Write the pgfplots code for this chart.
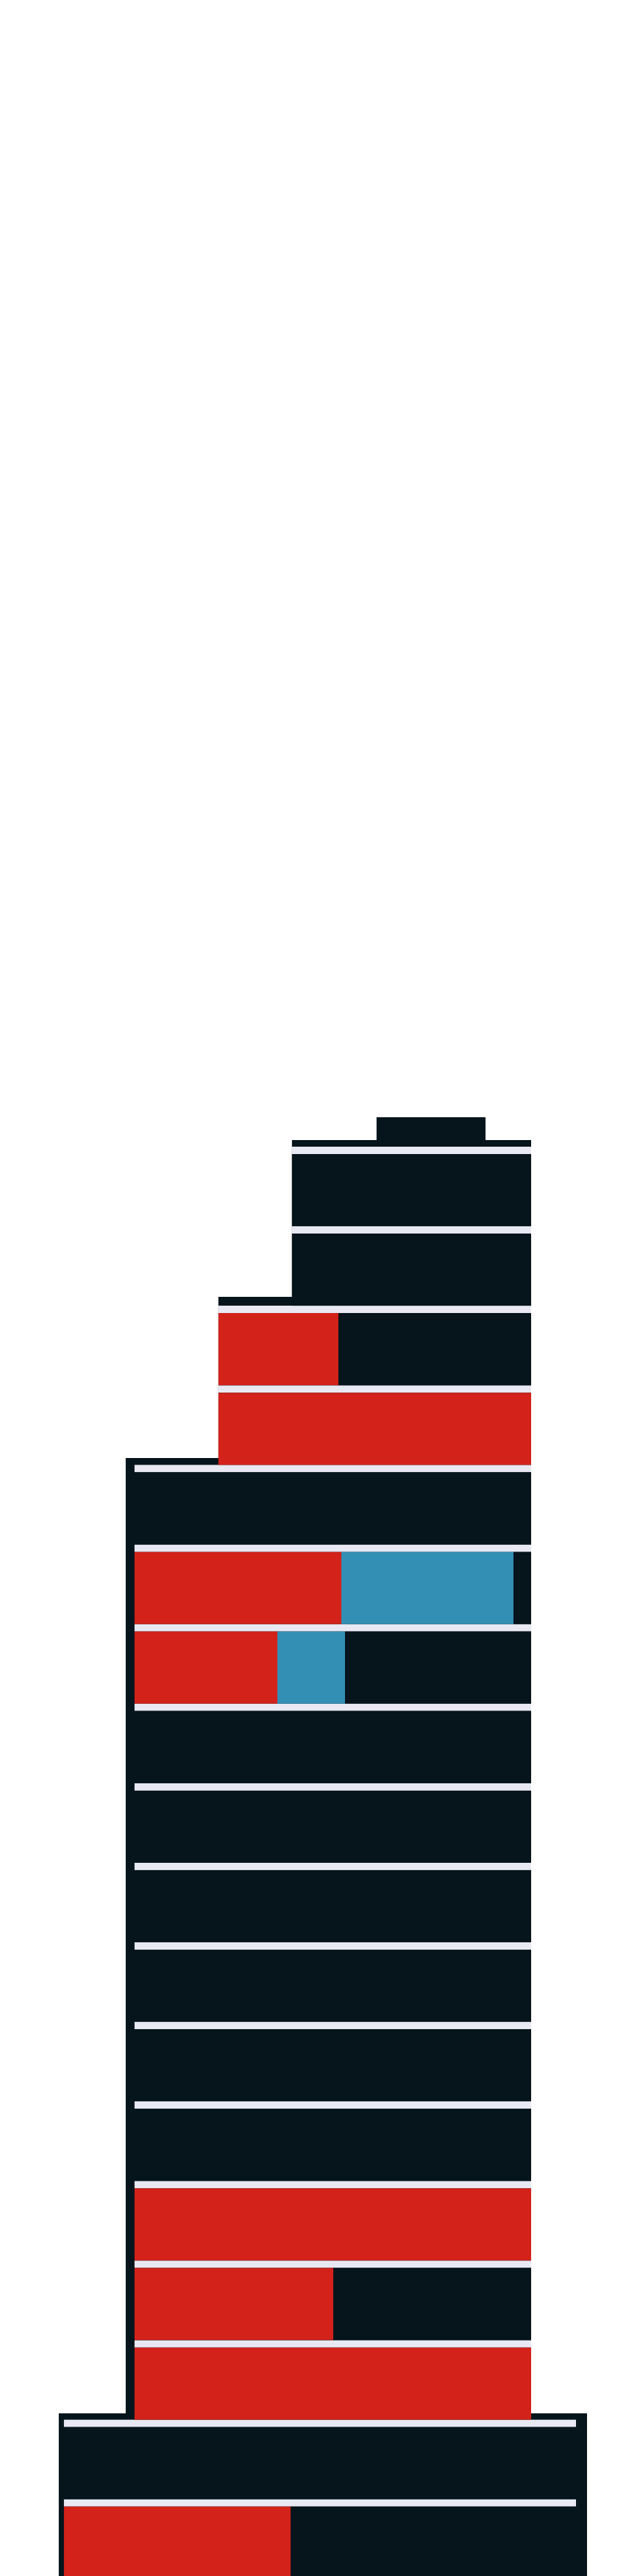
\documentclass[border=0pt]{standalone}
\usepackage{pgfplots}
\usepackage{pgfplotstable}
\pgfplotsset{compat=1.18}
\definecolor{bred}{HTML}{D2221A}
\definecolor{bblue}{HTML}{338FB3}
\definecolor{bdark}{HTML}{06141C}
\definecolor{bsep}{HTML}{E8E9F3}

% floors: centre (px from top), left offset, red, blue, dark widths (px)
\pgfplotstableread{
y off red blue dark
1617    397 0   0   325
1725.1  397 0   0   325
1833.2  297 163 0   262
1941.3  297 425 0   0
2049.4  183 0   0   539
2157.5  183 281 234 24
2265.6  183 194 92  253
2373.7  183 0   0   539
2481.8  183 0   0   539
2589.9  183 0   0   539
2698    183 0   0   539
2806.1  183 0   0   539
2914.2  183 0   0   539
3022.3  183 539 0   0
3130.4  183 270 0   269
3238.5  183 539 0   0
3346.6  87  0   0   696
3454.7  87  308 0   388
}\rows

% separators between floors
\pgfplotstableread{
y off w
1563    397 325
1671.1  397 325
1779.2  297 425
1887.3  297 425
1995.4  183 539
2103.5  183 539
2211.6  183 539
2319.7  183 539
2427.8  183 539
2535.9  183 539
2644    183 539
2752.1  183 539
2860.2  183 539
2968.3  183 539
3076.4  183 539
3184.5  183 539
3292.6  87  696
3400.7  87  696
}\seps

\pgfplotsset{bld/.style={scale only axis, width=8.7cm, height=35cm,
  xmin=0, xmax=870, ymin=0, ymax=3500, y dir=reverse, hide axis, clip=true,
  at={(0,0)}, anchor=south west}}

\begin{document}
\begin{tikzpicture}
\begin{axis}[bld]
\addplot[fill=white, draw=none] coordinates {(0,0) (870,0) (870,3500) (0,3500)} --cycle;
\addplot[fill=bdark, draw=none] coordinates {
(512,1518) (660,1518) (660,1549) (722,1549) (722,3279) (798,3279) (798,3500)
(80,3500) (80,3279) (171,3279) (171,1981) (297,1981) (297,1762) (397,1762)
(397,1549) (512,1549)} --cycle;
\end{axis}
\begin{axis}[bld, xbar stacked, bar width=10]
\addplot[draw=none, fill=none] table[x=off, y=y] {\seps};
\addplot[draw=none, fill=bsep] table[x=w, y=y] {\seps};
\end{axis}
\begin{axis}[bld, xbar stacked, bar width=98]
\addplot[draw=none, fill=none] table[x=off, y=y] {\rows};
\addplot[draw=none, fill=bred] table[x=red, y=y] {\rows};
\addplot[draw=none, fill=bblue] table[x=blue, y=y] {\rows};
\addplot[draw=none, fill=bdark] table[x=dark, y=y] {\rows};
\end{axis}
\end{tikzpicture}
\end{document}
